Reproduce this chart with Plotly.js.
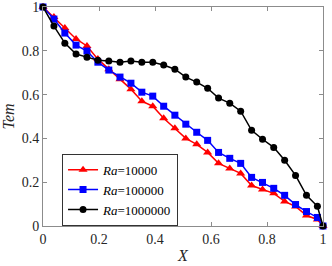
<!DOCTYPE html>
<html>
<head>
<meta charset="utf-8">
<script src="https://cdn.plot.ly/plotly-3.0.1.min.js"></script>
<style>
  html, body { margin: 0; padding: 0; background: #fff; }
  #plot { width: 332px; height: 266px; }
</style>
</head>
<body>
<div id="plot"></div>
<script>
// x positions of the sampled points
var xs = [0, 0.039, 0.078, 0.118, 0.157, 0.196, 0.235, 0.275, 0.314, 0.353,
          0.392, 0.431, 0.471, 0.51, 0.549, 0.588, 0.627, 0.667, 0.706, 0.745,
          0.784, 0.824, 0.863, 0.902, 0.941, 0.98, 1];

var tem1e4 = [1.0, 0.954, 0.904, 0.854, 0.822, 0.762, 0.716, 0.670, 0.625, 0.570,
              0.547, 0.492, 0.446, 0.400, 0.373, 0.336, 0.286, 0.263, 0.240, 0.185,
              0.167, 0.149, 0.112, 0.089, 0.048, 0.030, 0];

var tem1e5 = [1.0, 0.945, 0.881, 0.826, 0.799, 0.748, 0.712, 0.680, 0.652, 0.611,
              0.593, 0.547, 0.506, 0.465, 0.428, 0.391, 0.336, 0.309, 0.286, 0.222,
              0.199, 0.172, 0.140, 0.098, 0.066, 0.039, 0];

var tem1e6 = [1.0, 0.913, 0.835, 0.785, 0.771, 0.757, 0.753, 0.748, 0.753, 0.748,
              0.748, 0.735, 0.716, 0.680, 0.657, 0.629, 0.584, 0.561, 0.524, 0.437,
              0.396, 0.359, 0.300, 0.231, 0.140, 0.090, 0];

var tickVals = [0, 0.2, 0.4, 0.6, 0.8, 1];
var tickText = ['0', '0.2', '0.4', '0.6', '0.8', '1'];

var names = ['<i>Ra</i>=10000', '<i>Ra</i>=100000', '<i>Ra</i>=1000000'];

var serif = 'Liberation Serif, Times New Roman, serif';

var trace1 = {
  x: xs, y: tem1e4, name: names[0],
  type: 'scatter', mode: 'lines+markers', cliponaxis: false,
  line: {color: '#ff0000', width: 1.5},
  marker: {symbol: 'triangle-up', size: 8, color: '#ff0000'}
};

var trace2 = {
  x: xs, y: tem1e5, name: names[1],
  type: 'scatter', mode: 'lines+markers', cliponaxis: false,
  line: {color: '#0000ff', width: 1.5},
  marker: {symbol: 'square', size: 7, color: '#0000ff'}
};

var trace3 = {
  x: xs, y: tem1e6, name: names[2],
  type: 'scatter', mode: 'lines+markers', cliponaxis: false,
  line: {color: '#000000', width: 1.5},
  marker: {symbol: 'circle', size: 7, color: '#000000'}
};

var axisStyle = {
  range: [0, 1],
  tickmode: 'array',
  tickvals: tickVals,
  ticktext: tickText,
  ticklabeloverflow: 'allow',
  showgrid: false,
  zeroline: false,
  showline: true,
  linecolor: '#8c8c8c',
  linewidth: 1,
  mirror: 'ticks',
  ticks: 'inside',
  ticklen: 4,
  tickcolor: '#8c8c8c',
  tickfont: {family: serif, size: 14, color: '#262626'}
};

var layout = {
  width: 332,
  height: 266,
  margin: {l: 43, r: 9, t: 7, b: 40, autoexpand: false},
  paper_bgcolor: '#fff',
  plot_bgcolor: '#fff',
  font: {family: serif, size: 14, color: '#262626'},
  xaxis: Object.assign({}, axisStyle, {
    automargin: false,
    title: {text: '<i>X</i>', font: {family: serif, size: 16}, standoff: 4}
  }),
  yaxis: Object.assign({}, axisStyle, {
    automargin: false,
    title: {text: '<i>Tem</i>', font: {family: serif, size: 16}, standoff: 5}
  }),
  legend: {
    x: 0.068, y: 0.33, xanchor: 'left', yanchor: 'top',
    bgcolor: '#fff',
    bordercolor: '#333',
    borderwidth: 1,
    font: {family: serif, size: 13, color: '#000'},
    tracegroupgap: 0,
    itemwidth: 30
  },
  showlegend: true
};

Plotly.newPlot('plot', [trace1, trace2, trace3], layout, {displayModeBar: false, staticPlot: true});
</script>
</body>
</html>
